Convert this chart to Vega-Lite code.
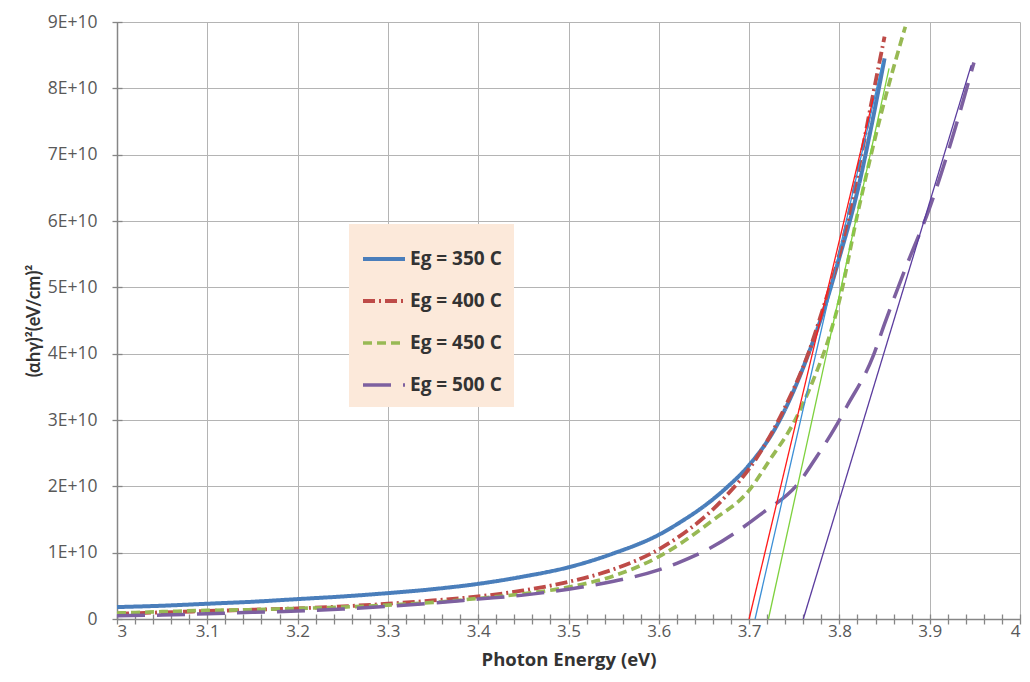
{
  "$schema": "https://vega.github.io/schema/vega-lite/v6.json",
  "width": 903,
  "height": 597,
  "autosize": {"type": "none"},
  "padding": {"left": 117, "top": 22, "right": 10, "bottom": 63},
  "background": "white",
  "config": {"view": {"stroke": null}, "font": "Open Sans"},
  "datasets": {
    "curves": [
      {"series": "Eg = 350 C", "E": 3.00, "v": 1.8e9},
      {"series": "Eg = 350 C", "E": 3.05, "v": 2.0e9},
      {"series": "Eg = 350 C", "E": 3.10, "v": 2.3e9},
      {"series": "Eg = 350 C", "E": 3.15, "v": 2.6e9},
      {"series": "Eg = 350 C", "E": 3.20, "v": 3.0e9},
      {"series": "Eg = 350 C", "E": 3.25, "v": 3.4e9},
      {"series": "Eg = 350 C", "E": 3.30, "v": 3.9e9},
      {"series": "Eg = 350 C", "E": 3.35, "v": 4.5e9},
      {"series": "Eg = 350 C", "E": 3.40, "v": 5.3e9},
      {"series": "Eg = 350 C", "E": 3.45, "v": 6.4e9},
      {"series": "Eg = 350 C", "E": 3.50, "v": 7.8e9},
      {"series": "Eg = 350 C", "E": 3.55, "v": 9.9e9},
      {"series": "Eg = 350 C", "E": 3.60, "v": 1.27e10},
      {"series": "Eg = 350 C", "E": 3.625, "v": 1.47e10},
      {"series": "Eg = 350 C", "E": 3.65, "v": 1.70e10},
      {"series": "Eg = 350 C", "E": 3.675, "v": 1.98e10},
      {"series": "Eg = 350 C", "E": 3.70, "v": 2.32e10},
      {"series": "Eg = 350 C", "E": 3.73, "v": 2.9e10},
      {"series": "Eg = 350 C", "E": 3.765, "v": 3.97e10},
      {"series": "Eg = 350 C", "E": 3.786, "v": 4.8e10},
      {"series": "Eg = 350 C", "E": 3.80, "v": 5.45e10},
      {"series": "Eg = 350 C", "E": 3.82, "v": 6.45e10},
      {"series": "Eg = 350 C", "E": 3.835, "v": 7.4e10},
      {"series": "Eg = 350 C", "E": 3.85, "v": 8.45e10},

      {"series": "Eg = 400 C", "E": 3.00, "v": 0.8e9},
      {"series": "Eg = 400 C", "E": 3.05, "v": 1.0e9},
      {"series": "Eg = 400 C", "E": 3.10, "v": 1.2e9},
      {"series": "Eg = 400 C", "E": 3.15, "v": 1.4e9},
      {"series": "Eg = 400 C", "E": 3.20, "v": 1.6e9},
      {"series": "Eg = 400 C", "E": 3.25, "v": 1.9e9},
      {"series": "Eg = 400 C", "E": 3.30, "v": 2.3e9},
      {"series": "Eg = 400 C", "E": 3.35, "v": 2.8e9},
      {"series": "Eg = 400 C", "E": 3.40, "v": 3.4e9},
      {"series": "Eg = 400 C", "E": 3.45, "v": 4.3e9},
      {"series": "Eg = 400 C", "E": 3.50, "v": 5.6e9},
      {"series": "Eg = 400 C", "E": 3.55, "v": 7.5e9},
      {"series": "Eg = 400 C", "E": 3.60, "v": 1.05e10},
      {"series": "Eg = 400 C", "E": 3.62, "v": 1.22e10},
      {"series": "Eg = 400 C", "E": 3.67, "v": 1.79e10},
      {"series": "Eg = 400 C", "E": 3.708, "v": 2.42e10},
      {"series": "Eg = 400 C", "E": 3.74, "v": 3.2e10},
      {"series": "Eg = 400 C", "E": 3.766, "v": 4.02e10},
      {"series": "Eg = 400 C", "E": 3.78, "v": 4.6e10},
      {"series": "Eg = 400 C", "E": 3.80, "v": 5.5e10},
      {"series": "Eg = 400 C", "E": 3.82, "v": 6.7e10},
      {"series": "Eg = 400 C", "E": 3.835, "v": 7.75e10},
      {"series": "Eg = 400 C", "E": 3.85, "v": 8.78e10},

      {"series": "Eg = 450 C", "E": 3.00, "v": 0.9e9},
      {"series": "Eg = 450 C", "E": 3.05, "v": 1.1e9},
      {"series": "Eg = 450 C", "E": 3.10, "v": 1.3e9},
      {"series": "Eg = 450 C", "E": 3.15, "v": 1.4e9},
      {"series": "Eg = 450 C", "E": 3.20, "v": 1.6e9},
      {"series": "Eg = 450 C", "E": 3.25, "v": 1.8e9},
      {"series": "Eg = 450 C", "E": 3.30, "v": 2.1e9},
      {"series": "Eg = 450 C", "E": 3.35, "v": 2.5e9},
      {"series": "Eg = 450 C", "E": 3.40, "v": 3.1e9},
      {"series": "Eg = 450 C", "E": 3.45, "v": 3.8e9},
      {"series": "Eg = 450 C", "E": 3.50, "v": 4.8e9},
      {"series": "Eg = 450 C", "E": 3.55, "v": 6.5e9},
      {"series": "Eg = 450 C", "E": 3.60, "v": 9.4e9},
      {"series": "Eg = 450 C", "E": 3.66, "v": 1.49e10},
      {"series": "Eg = 450 C", "E": 3.70, "v": 1.94e10},
      {"series": "Eg = 450 C", "E": 3.723, "v": 2.40e10},
      {"series": "Eg = 450 C", "E": 3.749, "v": 2.95e10},
      {"series": "Eg = 450 C", "E": 3.771, "v": 3.60e10},
      {"series": "Eg = 450 C", "E": 3.79, "v": 4.31e10},
      {"series": "Eg = 450 C", "E": 3.80, "v": 4.8e10},
      {"series": "Eg = 450 C", "E": 3.82, "v": 6.1e10},
      {"series": "Eg = 450 C", "E": 3.845, "v": 7.55e10},
      {"series": "Eg = 450 C", "E": 3.873, "v": 8.93e10},

      {"series": "Eg = 500 C", "E": 3.00, "v": 0.5e9},
      {"series": "Eg = 500 C", "E": 3.05, "v": 0.6e9},
      {"series": "Eg = 500 C", "E": 3.10, "v": 0.8e9},
      {"series": "Eg = 500 C", "E": 3.15, "v": 1.0e9},
      {"series": "Eg = 500 C", "E": 3.20, "v": 1.2e9},
      {"series": "Eg = 500 C", "E": 3.25, "v": 1.5e9},
      {"series": "Eg = 500 C", "E": 3.30, "v": 1.9e9},
      {"series": "Eg = 500 C", "E": 3.35, "v": 2.4e9},
      {"series": "Eg = 500 C", "E": 3.40, "v": 3.0e9},
      {"series": "Eg = 500 C", "E": 3.45, "v": 3.6e9},
      {"series": "Eg = 500 C", "E": 3.50, "v": 4.5e9},
      {"series": "Eg = 500 C", "E": 3.55, "v": 5.7e9},
      {"series": "Eg = 500 C", "E": 3.60, "v": 7.4e9},
      {"series": "Eg = 500 C", "E": 3.62, "v": 8.4e9},
      {"series": "Eg = 500 C", "E": 3.657, "v": 1.07e10},
      {"series": "Eg = 500 C", "E": 3.712, "v": 1.57e10},
      {"series": "Eg = 500 C", "E": 3.756, "v": 2.07e10},
      {"series": "Eg = 500 C", "E": 3.775, "v": 2.45e10},
      {"series": "Eg = 500 C", "E": 3.795, "v": 2.88e10},
      {"series": "Eg = 500 C", "E": 3.808, "v": 3.2e10},
      {"series": "Eg = 500 C", "E": 3.837, "v": 3.95e10},
      {"series": "Eg = 500 C", "E": 3.85, "v": 4.45e10},
      {"series": "Eg = 500 C", "E": 3.875, "v": 5.35e10},
      {"series": "Eg = 500 C", "E": 3.90, "v": 6.2e10},
      {"series": "Eg = 500 C", "E": 3.925, "v": 7.25e10},
      {"series": "Eg = 500 C", "E": 3.949, "v": 8.39e10}
    ],
    "fits": [
      {"fit": "fit 350", "E": 3.7066, "v": 0},
      {"fit": "fit 350", "E": 3.848, "v": 8.4e10},
      {"fit": "fit 400", "E": 3.70, "v": 0},
      {"fit": "fit 400", "E": 3.8375, "v": 7.85e10},
      {"fit": "fit 450", "E": 3.7214, "v": 0},
      {"fit": "fit 450", "E": 3.855, "v": 8.3e10},
      {"fit": "fit 500", "E": 3.76, "v": 0},
      {"fit": "fit 500", "E": 3.946, "v": 8.35e10}
    ]
  },
  "layer": [
    {
      "data": {"name": "curves"},
      "mark": {"type": "line", "interpolate": "monotone"},
      "encoding": {
        "x": {
          "field": "E", "type": "quantitative",
          "scale": {"domain": [3, 4], "nice": false, "zero": false},
          "axis": {
            "orient": "bottom",
            "values": [3, 3.1, 3.2, 3.3, 3.4, 3.5, 3.6, 3.7, 3.8, 3.9, 4],
            "format": "~g",
            "ticks": false, "tickSize": 0,
            "labelPadding": 4,
            "labelFontSize": 17, "labelColor": "#595959",
            "domainColor": "#868686", "domainWidth": 1.5,
            "grid": true, "gridColor": "#B4B4B4", "gridWidth": 1,
            "title": "Photon Energy (eV)",
            "titleFontSize": 18.5, "titleFontWeight": "bold", "titleColor": "#333333",
            "titlePadding": 11
          }
        },
        "y": {
          "field": "v", "type": "quantitative",
          "scale": {"domain": [0, 90000000000], "nice": false},
          "axis": {
            "orient": "left",
            "values": [0, 10000000000, 20000000000, 30000000000, 40000000000, 50000000000, 60000000000, 70000000000, 80000000000, 90000000000],
            "labelExpr": "datum.value == 0 ? '0' : round(datum.value / 10000000000) + 'E+10'",
            "ticks": false, "tickSize": 0,
            "labelPadding": 20,
            "labelFontSize": 17.5, "labelColor": "#595959",
            "domainColor": "#868686", "domainWidth": 1.5,
            "grid": true, "gridColor": "#B4B4B4", "gridWidth": 1,
            "title": "(αhγ)²(eV/cm)²",
            "titleFont": "Lato",
            "titleFontSize": 18, "titleFontWeight": "bold", "titleColor": "#333333",
            "titlePadding": 4
          }
        },
        "color": {
          "field": "series", "type": "nominal",
          "scale": {
            "domain": ["Eg = 350 C", "Eg = 400 C", "Eg = 450 C", "Eg = 500 C"],
            "range": ["#4A7EBB", "#BE4B48", "#98B954", "#7D60A0"]
          },
          "legend": {
            "title": null, "orient": "none", "legendX": 232, "legendY": 202,
            "fillColor": "#FCE9DA", "padding": 12,
            "symbolType": "stroke", "symbolSize": 1764, "symbolStrokeWidth": 4,
            "rowPadding": 9, "labelOffset": 3,
            "labelFontSize": 19, "labelFontWeight": "bold", "labelColor": "#333333"
          }
        },
        "strokeDash": {
          "field": "series", "type": "nominal",
          "scale": {
            "domain": ["Eg = 350 C", "Eg = 400 C", "Eg = 450 C", "Eg = 500 C"],
            "range": [[1, 0], [12, 4, 2, 4], [9, 5], [28, 12]]
          },
          "legend": {
            "title": null, "orient": "none", "legendX": 232, "legendY": 202,
            "fillColor": "#FCE9DA", "padding": 12,
            "symbolType": "stroke", "symbolSize": 1764, "symbolStrokeWidth": 4,
            "rowPadding": 9, "labelOffset": 3,
            "labelFontSize": 19, "labelFontWeight": "bold", "labelColor": "#333333"
          }
        },
        "strokeWidth": {
          "field": "series", "type": "nominal",
          "scale": {
            "domain": ["Eg = 350 C", "Eg = 400 C", "Eg = 450 C", "Eg = 500 C"],
            "range": [4, 3.5, 3.5, 4.5]
          },
          "legend": null
        }
      }
    },
    {
      "data": {"name": "fits"},
      "mark": {"type": "line", "strokeWidth": 1.3},
      "encoding": {
        "x": {
          "field": "E", "type": "quantitative",
          "axis": {
            "orient": "bottom", "offset": -5,
            "values": [3, 3.02, 3.04, 3.06, 3.08, 3.1, 3.12, 3.14, 3.16, 3.18, 3.2, 3.22, 3.24, 3.26, 3.28, 3.3, 3.32, 3.34, 3.36, 3.38, 3.4, 3.42, 3.44, 3.46, 3.48, 3.5, 3.52, 3.54, 3.56, 3.58, 3.6, 3.62, 3.64, 3.66, 3.68, 3.7, 3.72, 3.74, 3.76, 3.78, 3.8, 3.82, 3.84, 3.86, 3.88, 3.9, 3.92, 3.94, 3.96, 3.98, 4],
            "ticks": true, "tickSize": 10, "tickColor": "#868686", "tickWidth": 1.3,
            "domain": false, "labels": false, "grid": false, "title": null
          }
        },
        "y": {
          "field": "v", "type": "quantitative",
          "axis": {
            "orient": "left", "offset": -5,
            "values": [0, 10000000000, 20000000000, 30000000000, 40000000000, 50000000000, 60000000000, 70000000000, 80000000000, 90000000000],
            "ticks": true, "tickSize": 10, "tickColor": "#868686", "tickWidth": 1.3,
            "domain": false, "labels": false, "grid": false, "title": null
          }
        },
        "color": {
          "field": "fit", "type": "nominal",
          "scale": {
            "domain": ["fit 350", "fit 400", "fit 450", "fit 500"],
            "range": ["#3B8FD6", "#FF1A1A", "#7ED13E", "#5B3C9E"]
          },
          "legend": null
        }
      }
    }
  ],
  "resolve": {
    "scale": {"color": "independent", "strokeDash": "independent", "strokeWidth": "independent"},
    "axis": {"x": "independent", "y": "independent"}
  }
}
